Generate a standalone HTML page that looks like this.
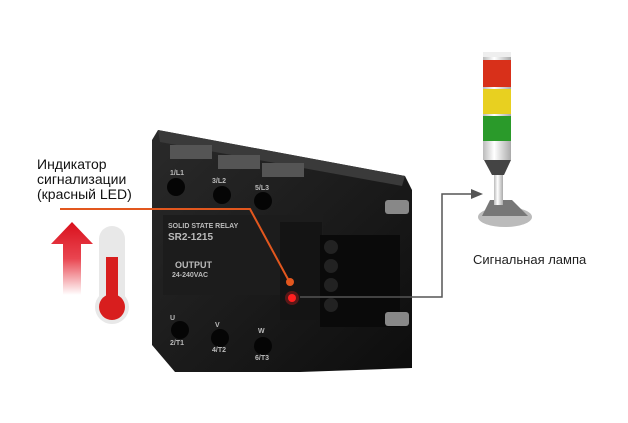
<!DOCTYPE html>
<html><head><meta charset="utf-8"><style>
html,body{margin:0;padding:0;background:#fff;}
svg{display:block}
text{font-family:"Liberation Sans",sans-serif;}
</style></head><body>
<svg width="628" height="423" viewBox="0 0 628 423" xmlns="http://www.w3.org/2000/svg">
<defs>
<linearGradient id="ar" x1="0" y1="0" x2="0" y2="1"><stop offset="0" stop-color="#d9101c"/><stop offset="0.5" stop-color="#e94550"/><stop offset="1" stop-color="#fff"/></linearGradient>
<linearGradient id="col" x1="0" y1="0" x2="1" y2="0"><stop offset="0" stop-color="#bbb"/><stop offset="0.4" stop-color="#fff"/><stop offset="1" stop-color="#aaa"/></linearGradient>
<linearGradient id="body" x1="0" y1="0" x2="1" y2="1"><stop offset="0" stop-color="#2a2a2a"/><stop offset="1" stop-color="#0d0d0d"/></linearGradient>
</defs>
<!-- text -->
<text x="37" y="169" font-size="14" fill="#111">Индикатор</text>
<text x="37" y="184" font-size="14" fill="#111">сигнализации</text>
<text x="37" y="199" font-size="14" fill="#111">(красный LED)</text>
<text x="473" y="264" font-size="13" fill="#222">Сигнальная лампа</text>
<!-- arrow -->
<polygon points="72,222 93,244 81,244 81,295 63,295 63,244 51,244" fill="url(#ar)"/>
<!-- thermometer -->
<rect x="99" y="226" width="26" height="90" rx="13" fill="#e8e8e8"/>
<circle cx="112" cy="307" r="17" fill="#e8e8e8"/>
<rect x="106" y="257" width="12" height="50" fill="#d81e1e"/>
<circle cx="112" cy="307" r="13" fill="#d81e1e"/>
<!-- relay body -->
<polygon points="158,130 405,176 412,190 412,368 300,372 175,372 152,345 152,140" fill="url(#body)"/>
<polygon points="158,130 405,176 402,186 160,142" fill="#3a3a3a"/>
<rect x="170" y="145" width="42" height="14" fill="#555"/>
<rect x="218" y="155" width="42" height="14" fill="#555"/>
<rect x="262" y="163" width="42" height="14" fill="#555"/>
<circle cx="176" cy="187" r="9" fill="#050505"/>
<circle cx="222" cy="195" r="9" fill="#050505"/>
<circle cx="263" cy="201" r="9" fill="#050505"/>
<rect x="163" y="215" width="160" height="80" fill="#1c1c1c"/>
<rect x="280" y="222" width="42" height="98" fill="#141414"/>
<rect x="320" y="235" width="80" height="92" fill="#0a0a0a"/>
<circle cx="331" cy="247" r="7" fill="#222"/><circle cx="331" cy="266" r="7" fill="#222"/>
<circle cx="331" cy="285" r="7" fill="#222"/><circle cx="331" cy="305" r="7" fill="#222"/>
<rect x="385" y="200" width="24" height="14" rx="3" fill="#888"/>
<rect x="385" y="312" width="24" height="14" rx="3" fill="#888"/>
<circle cx="180" cy="330" r="9" fill="#050505"/>
<circle cx="220" cy="338" r="9" fill="#050505"/>
<circle cx="263" cy="346" r="9" fill="#050505"/>
<g fill="#bbb" font-size="7" font-weight="bold">
<text x="170" y="175">1/L1</text><text x="212" y="183">3/L2</text><text x="255" y="190">5/L3</text>
<text x="168" y="228">SOLID STATE RELAY</text><text x="168" y="240" font-size="10">SR2-1215</text>
<text x="175" y="268" font-size="9">OUTPUT</text><text x="172" y="277">24-240VAC</text>
<text x="170" y="320">U</text><text x="215" y="327">V</text><text x="258" y="333">W</text>
<text x="170" y="345">2/T1</text><text x="212" y="352">4/T2</text><text x="255" y="360">6/T3</text>
</g>
<circle cx="292" cy="298" r="4" fill="#ff2020"/>
<circle cx="292" cy="298" r="7" fill="#ff2020" opacity="0.3"/>
<!-- connectors -->
<polyline points="60,209 250,209 289,281" fill="none" stroke="#e2571e" stroke-width="2"/>
<circle cx="290" cy="282" r="4" fill="#e2571e"/>
<polyline points="300,297 442,297 442,194 472,194" fill="none" stroke="#555" stroke-width="1.5"/>
<polygon points="483,194 471,189 471,199" fill="#555"/>
<!-- tower lamp -->
<ellipse cx="505" cy="217" rx="27" ry="10" fill="#bbb"/>
<polygon points="490,200 512,200 528,216 482,216" fill="#777"/>
<rect x="494" y="170" width="9" height="35" fill="url(#col)"/>
<polygon points="484,160 511,160 504,175 492,175" fill="#444"/>
<rect x="483" y="52" width="28" height="108" fill="url(#col)"/>
<rect x="483" y="60" width="28" height="27" fill="#d8301a"/>
<rect x="483" y="89" width="28" height="25" fill="#e8d020"/>
<rect x="483" y="116" width="28" height="25" fill="#2a9a2a"/>
<rect x="483" y="52" width="28" height="5" fill="#eee"/>
</svg>
</body></html>
